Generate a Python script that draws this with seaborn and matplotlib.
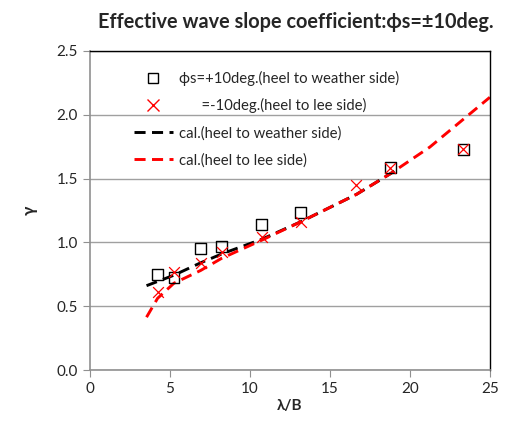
import numpy as np
import pandas as pd
import matplotlib
matplotlib.use("Agg")
import matplotlib.pyplot as plt
import seaborn as sns
from matplotlib.lines import Line2D

# measured points
x_weather = [4.23, 5.25, 6.92, 8.23, 10.75, 13.17, 18.79, 23.35]
y_weather = [0.747, 0.724, 0.953, 0.966, 1.14, 1.234, 1.586, 1.727]
x_lee = [4.23, 5.25, 6.92, 8.23, 10.75, 13.17, 16.63, 18.79, 23.35]
y_lee = [0.614, 0.770, 0.841, 0.927, 1.044, 1.161, 1.453, 1.586, 1.734]

# calculated curves
x_cal_weather = [3.54, 5.25, 6.92, 8.33, 10.75, 13.17, 16.67, 18.79, 19.3]
y_cal_weather = [0.661, 0.743, 0.840, 0.914, 1.025, 1.161, 1.377, 1.539, 1.58]
x_cal_lee = [3.54, 4.23, 5.25, 6.92, 8.23, 10.75, 13.17, 16.67, 18.79, 21.25, 25.0]
y_cal_lee = [0.414, 0.562, 0.680, 0.780, 0.875, 1.018, 1.161, 1.377, 1.539, 1.747, 2.137]

labels = ["ϕs=+10deg.(heel to weather side)",
          "      =-10deg.(heel to lee side)",
          "cal.(heel to weather side)",
          "cal.(heel to lee side)"]

sns.set_style("white")
plt.rcParams['font.family'] = ['Lato', 'DejaVu Sans']

fig = plt.figure(figsize=(5.05, 4.21), dpi=100)
ax = fig.add_axes([0.178, 0.121, 0.792, 0.758])

dash = (3.8, 2.2)
lw = 2.1
sns.lineplot(x=x_cal_weather, y=y_cal_weather, ax=ax, color="black",
             linewidth=lw, dashes=False, sort=False)
sns.lineplot(x=x_cal_lee, y=y_cal_lee, ax=ax, color="red",
             linewidth=lw, dashes=False, sort=False)
for ln in ax.lines:
    ln.set_dashes(dash)

sns.scatterplot(x=x_weather, y=y_weather, ax=ax, marker="s", s=60,
                facecolor="none", edgecolor="black", linewidth=1.0, zorder=3)
sns.scatterplot(x=x_lee, y=y_lee, ax=ax, marker="x", s=60,
                color="red", linewidth=0.9, zorder=4)

ax.set_xlim(0, 25)
ax.set_ylim(0, 2.5)
ax.set_xticks([0, 5, 10, 15, 20, 25])
ax.set_yticks([0.0, 0.5, 1.0, 1.5, 2.0, 2.5])
ax.set_yticklabels([f"{v:.1f}" for v in [0.0, 0.5, 1.0, 1.5, 2.0, 2.5]])
ax.yaxis.grid(True, color="#a0a0a0", linewidth=1.0)
ax.set_axisbelow(True)
ax.tick_params(axis="both", which="major", direction="out", length=5,
               color="#909090", labelsize=11, left=True, bottom=True)

for side in ["left", "bottom"]:
    ax.spines[side].set_color("#909090")
    ax.spines[side].set_linewidth(1.2)
for side in ["top", "right"]:
    ax.spines[side].set_color("black")
    ax.spines[side].set_linewidth(1.0)

ax.set_xlabel("λ/B", fontsize=11, fontweight="bold", labelpad=2)
ax.set_ylabel("γ", fontsize=12, fontweight="bold", labelpad=14)
fig.suptitle("Effective wave slope coefficient:ϕs=±10deg.", x=0.585, y=0.972,
             fontsize=14.3, fontweight="bold")

handles = [
    Line2D([], [], marker="s", markersize=7.5, markerfacecolor="none",
           markeredgecolor="black", linestyle="none"),
    Line2D([], [], marker="x", markersize=8, color="red", linestyle="none"),
    Line2D([], [], color="black", linewidth=lw, dashes=dash),
    Line2D([], [], color="red", linewidth=lw, dashes=dash),
]
ax.legend(handles, labels, loc="upper left", bbox_to_anchor=(0.077, 0.98),
          frameon=False, fontsize=10.7, handlelength=2.6, handletextpad=0.4,
          labelspacing=0.85)

fig.savefig("out.png", dpi=100, facecolor="white")
